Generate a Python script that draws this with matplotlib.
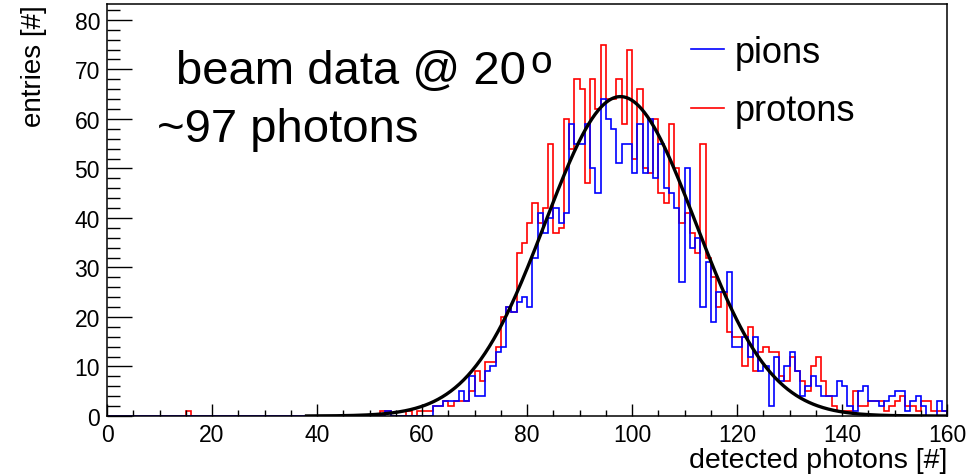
import numpy as np
import matplotlib
matplotlib.use('Agg')
import matplotlib.pyplot as plt
from matplotlib.lines import Line2D
from matplotlib.ticker import MultipleLocator

plt.rcParams['font.family'] = ['Liberation Sans', 'DejaVu Sans']

# bin edges: 160 bins of width 1 from 0 to 160
bin_edges = np.arange(0, 161, 1)

# entries per bin (bins 0..159)
pions = [
    0, 0, 0, 0, 0, 0, 0, 0, 0, 0,
    0, 0, 0, 0, 0, 0, 0, 0, 0, 0,
    0, 0, 0, 0, 0, 0, 0, 0, 0, 0,
    0, 0, 0, 0, 0, 0, 0, 0, 0, 0,
    0, 0, 0, 0, 0, 0, 0, 0, 0, 0,
    0, 0, 0, 1, 0, 0, 0, 0, 0, 0,
    0, 0, 2, 2, 3, 3, 3, 5, 3, 8,
    4, 4, 9, 10, 13, 14, 22, 21, 23, 24,
    22, 32, 41, 37, 40, 42, 39, 41, 59, 55,
    55, 59, 50, 45, 64, 60, 58, 51, 55, 55,
    49, 59, 49, 60, 48, 55, 46, 45, 42, 27,
    50, 34, 36, 22, 31, 19, 25, 25, 29, 14,
    14, 16, 12, 16, 9, 10, 2, 12, 7, 10,
    13, 9, 4, 6, 8, 6, 4, 4, 4, 7,
    6, 2, 1, 5, 6, 3, 3, 2, 3, 4,
    5, 5, 1, 3, 4, 2, 0, 0, 3, 1,
]
protons = [
    0, 0, 0, 0, 0, 0, 0, 0, 0, 0,
    0, 0, 0, 0, 0, 1, 0, 0, 0, 0,
    0, 0, 0, 0, 0, 0, 0, 0, 0, 0,
    0, 0, 0, 0, 0, 0, 0, 0, 0, 0,
    0, 0, 0, 0, 0, 0, 0, 0, 0, 0,
    0, 0, 1, 1, 0, 0, 0, 1, 0, 1,
    1, 1, 2, 2, 3, 2, 3, 3, 3, 5,
    9, 7, 11, 11, 14, 20, 22, 21, 33, 35,
    39, 43, 39, 42, 55, 37, 38, 60, 54, 68,
    66, 47, 68, 62, 75, 64, 64, 68, 59, 74,
    52, 66, 50, 49, 60, 45, 43, 59, 50, 39,
    41, 37, 33, 55, 32, 28, 22, 25, 17, 16,
    16, 10, 18, 9, 13, 14, 13, 13, 8, 7,
    12, 9, 7, 5, 10, 12, 7, 4, 2, 1,
    1, 1, 5, 2, 2, 3, 3, 3, 1, 2,
    3, 4, 2, 2, 1, 3, 3, 1, 1, 1,
]

# gaussian fit parameters
fit_const = 64.5
fit_mean = 97.8
fit_sigma = 14.3
fit_range = (38, 160)

fig = plt.figure(figsize=(9.67, 4.77), dpi=100)
ax = fig.add_axes([107 / 967, 1 - 417 / 477, 840 / 967, 412 / 477])

ax.stairs(protons, bin_edges, color='#ff0000', lw=1.2)
ax.stairs(pions, bin_edges, color='#0000ff', lw=1.2)

xf = np.linspace(fit_range[0], fit_range[1], 600)
yf = fit_const * np.exp(-0.5 * ((xf - fit_mean) / fit_sigma) ** 2)
ax.plot(xf, yf, color='black', lw=2.4)

ax.set_xlim(0, 160)
ax.set_ylim(0, 83.2)
ax.xaxis.set_major_locator(MultipleLocator(20))
ax.xaxis.set_minor_locator(MultipleLocator(5))
ax.yaxis.set_major_locator(MultipleLocator(10))
ax.yaxis.set_minor_locator(MultipleLocator(2))
ax.tick_params(axis='x', which='major', direction='in', length=8.6, width=1,
               labelsize=16.5, pad=5)
ax.tick_params(axis='x', which='minor', direction='in', length=4.3, width=1)
ax.tick_params(axis='y', which='major', direction='in', length=18, width=1,
               labelsize=16.5, pad=5)
ax.tick_params(axis='y', which='minor', direction='in', length=9, width=1)
for s in ax.spines.values():
    s.set_linewidth(1.1)

ax.set_xlabel('detected photons [#]', fontsize=20.5, loc='right', labelpad=1)
ax.set_ylabel('entries [#]', fontsize=20, loc='top', labelpad=20)

handles = [Line2D([], [], color='#0000ff', lw=1.2),
           Line2D([], [], color='#ff0000', lw=1.2)]
ax.legend(handles, ['pions', 'protons'], loc='upper left',
          bbox_to_anchor=(691 / 967, 1 - 36 / 477),
          bbox_transform=fig.transFigure, frameon=False, fontsize=26,
          handlelength=0.92, handletextpad=0.3, labelspacing=0.65,
          borderpad=0, borderaxespad=0)

fig.text(176 / 967, 1 - 84 / 477, 'beam data @ 20', fontsize=34,
         va='baseline', ha='left')
fig.text(530 / 967, 1 - 73 / 477, 'o', fontsize=28, va='baseline', ha='left')
fig.text(157 / 967, 1 - 142 / 477, '~97 photons', fontsize=34,
         va='baseline', ha='left')

plt.savefig('out.png', dpi=100)
